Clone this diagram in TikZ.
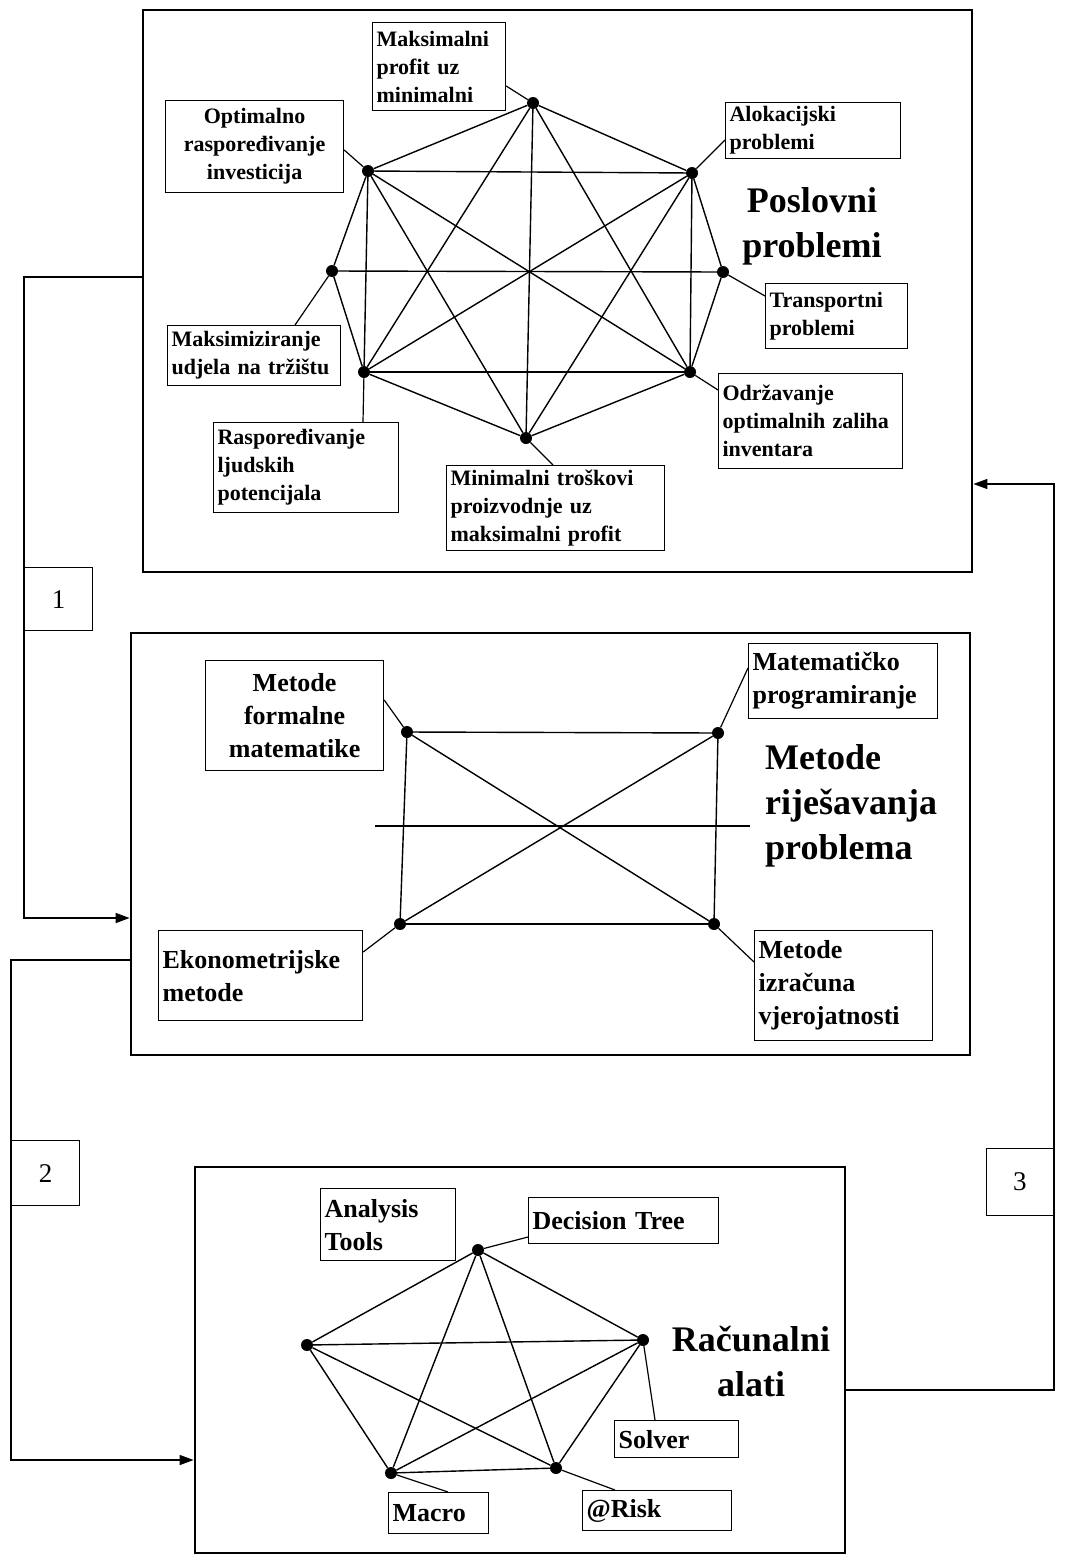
\documentclass[tikz,border=0pt]{standalone}
\usepackage{fontspec}
\setmainfont{Liberation Serif}
\usetikzlibrary{arrows.meta}

\begin{document}
\begin{tikzpicture}[x=1pt, y=-1pt,
		vtx/.style={inner sep=0pt, fill=black, circle, minimum size=12pt},
		edge/.style={line width=1.4pt},
		lead/.style={line width=1.2pt},
		panel/.style={draw, line width=2.8pt, inner sep=0pt},
		lbl/.style={draw, line width=1.2pt, anchor=north west, inner sep=4pt, align=left, font=\fontsize{22}{28}\selectfont\bfseries},
		lblb/.style={lbl, font=\fontsize{26}{33}\selectfont\bfseries},
		ttl/.style={inner sep=0pt, align=center, font=\fontsize{36}{45}\selectfont\bfseries},
		numbox/.style={draw, line width=1.2pt, inner sep=0pt, font=\fontsize{27}{30}\selectfont},
		conn/.style={line width=1.4pt, -{Triangle[length=14pt,width=10pt]}}]
	\useasboundingbox (0,0) rectangle (1072,1556);

	% Panels
	\node[panel, minimum width=829pt, minimum height=562pt] (box1) at (557.5,291) {};
	\node[panel, minimum width=839pt, minimum height=422pt] (box2) at (550.5,844) {};
	\node[panel, minimum width=650pt, minimum height=386pt] (box3) at (520,1360) {};

	% Poslovni problemi
	\node[vtx] (a1) at (533,103) {};
	\node[vtx] (a2) at (692,173) {};
	\node[vtx] (a3) at (723,272) {};
	\node[vtx] (a4) at (690,372) {};
	\node[vtx] (a5) at (526,438) {};
	\node[vtx] (a6) at (364,372) {};
	\node[vtx] (a7) at (332,271) {};
	\node[vtx] (a8) at (368,171) {};
	\foreach \p/\q in {a1/a8, a1/a2, a1/a6, a1/a4, a1/a5, a8/a2, a8/a7, a8/a6, a8/a4, a8/a5,
		a2/a3, a2/a4, a2/a6, a2/a5, a7/a3, a7/a6, a3/a4, a6/a4, a6/a5, a4/a5}
		\draw[edge] (\p) -- (\q);

	\node[lbl, text width=125pt, minimum height=88pt] (la1) at (372,22) {Maksimalni\\profit uz\\minimalni};
	\node[lbl, text width=167pt, minimum height=56pt] (la2) at (725,102) {Alokacijski\\problemi};
	\node[lbl, text width=134pt, minimum height=65pt] (la3) at (765,283) {Transportni\\problemi};
	\node[lbl, text width=176pt, minimum height=95pt] (la4) at (718,373) {Održavanje\\optimalnih zaliha\\inventara};
	\node[lbl, text width=210pt, minimum height=85pt] (la5) at (446,465) {Minimalni troškovi\\proizvodnje uz\\maksimalni profit};
	\node[lbl, text width=177pt, minimum height=90pt] (la6) at (213,422) {Raspoređivanje\\ljudskih\\potencijala};
	\node[lbl, text width=165pt, minimum height=60pt] (la7) at (167,325) {Maksimiziranje\\udjela na tržištu};
	\node[lbl, align=center, text width=170pt, minimum height=92pt] (la8) at (165,100) {Optimalno\\raspoređivanje\\investicija};

	\draw[lead] (a1) -- (la1.east |- 0,86);
	\draw[lead] (a2) -- (la2.west |- 0,140);
	\draw[lead] (a3) -- (la3.west |- 0,296);
	\draw[lead] (a4) -- (la4.west |- 0,390);
	\draw[lead] (a5) -- (la5.north -| 553,0);
	\draw[lead] (a6) -- (la6.north -| 363,0);
	\draw[lead] (a7) -- (la7.north -| 295,0);
	\draw[lead] (a8) -- (la8.east |- 0,150);

	\node[ttl] (t1) at (812,226) {Poslovni\\problemi};

	% Metode rjesavanja problema
	\node[vtx] (b1) at (407,732) {};
	\node[vtx] (b2) at (718,733) {};
	\node[vtx] (b3) at (714,924) {};
	\node[vtx] (b4) at (400,924) {};
	\foreach \p/\q in {b1/b2, b2/b3, b3/b4, b4/b1, b1/b3, b2/b4}
		\draw[edge] (\p) -- (\q);
	\coordinate (h1) at (375,826);
	\coordinate (h2) at (750,826);
	\draw[edge] (h1) -- (h2);

	\node[lblb, align=center, text width=170pt, minimum height=110pt] (lb1) at (205,660) {Metode\\formalne\\matematike};
	\node[lblb, text width=181pt, minimum height=75pt] (lb2) at (748,643) {Matematičko\\programiranje};
	\node[lblb, text width=170pt, minimum height=110pt] (lb3) at (754,930) {Metode\\izračuna\\vjerojatnosti};
	\node[lblb, text width=196pt, minimum height=90pt] (lb4) at (158,930) {Ekonometrijske\\metode};

	\draw[lead] (b1) -- (lb1.east |- 0,700);
	\draw[lead] (b2) -- (lb2.west |- 0,668);
	\draw[lead] (b3) -- (lb3.west |- 0,962);
	\draw[lead] (b4) -- (lb4.east |- 0,952);

	\node[ttl, align=left, anchor=west] (t2) at (765,806) {Metode\\riješavanja\\problema};

	% Racunalni alati
	\node[vtx] (c1) at (478,1250) {};
	\node[vtx] (c2) at (643,1340) {};
	\node[vtx] (c3) at (556,1468) {};
	\node[vtx] (c4) at (391,1473) {};
	\node[vtx] (c5) at (307,1345) {};
	\foreach \p/\q in {c1/c2, c1/c3, c1/c4, c1/c5, c2/c3, c2/c4, c2/c5, c3/c4, c3/c5, c4/c5}
		\draw[edge] (\p) -- (\q);

	\node[lblb, text width=127pt, minimum height=72pt] (lc0) at (320,1188) {Analysis\\Tools};
	\node[lblb, text width=182pt, minimum height=46pt] (lc1) at (528,1197) {Decision Tree};
	\node[lblb, text width=116pt, minimum height=37pt] (lc2) at (614,1420) {Solver};
	\node[lblb, text width=141pt, minimum height=40pt] (lc3) at (582,1490) {@Risk};
	\node[lblb, text width=92pt, minimum height=41pt] (lc4) at (388,1492) {Macro};

	\draw[lead] (c1) -- (lc1.west |- 0,1237);
	\draw[lead] (c2) -- (lc2.north -| 655,0);
	\draw[lead] (c3) -- (lc3.north -| 615,0);
	\draw[lead] (c4) -- (lc4.north -| 448,0);

	\node[ttl] (t3) at (751,1361) {Računalni\\alati};

	% Flow between panels
	\draw[conn] (box1.west |- 0,277) -| (24,918) -- (box2.west |- 0,918);
	\draw[conn] (box2.west |- 0,960) -| (11,1460) -- (box3.west |- 0,1460);
	\draw[conn] (box3.east |- 0,1390) -| (1054,484) -- (box1.east |- 0,484);

	\node[numbox, minimum width=68pt, minimum height=63pt, anchor=north west] (n1) at (24,567) {1};
	\node[numbox, minimum width=68pt, minimum height=65pt, anchor=north west] (n2) at (11,1140) {2};
	\node[numbox, minimum width=67pt, minimum height=67pt, anchor=north east] (n3) at (1054,1148) {3};
\end{tikzpicture}
\end{document}
